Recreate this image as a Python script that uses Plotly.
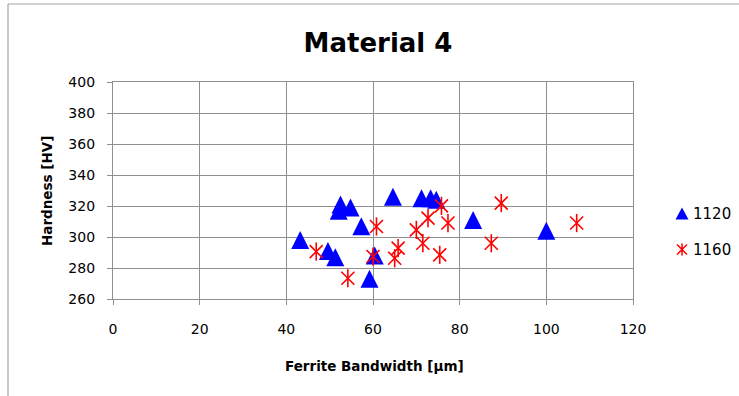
import plotly.graph_objects as go

# Hardness vs. ferrite bandwidth for two heat-treatment temperatures
series_names = ["1120", "1160"]

bandwidth_1120 = [43.2, 52.5, 52.1, 54.8, 57.3, 49.6, 51.3, 60.4, 59.2, 64.6, 71.2, 73.3, 74.6, 83.1, 100.0]
hardness_1120 = [298, 321, 317, 319, 307, 291, 287, 288, 273, 326, 325, 325, 324, 311, 304]

bandwidth_1160 = [46.9, 60.8, 60.0, 54.2, 75.8, 72.7, 77.3, 70.0, 71.5, 65.8, 65.0, 75.4, 89.6, 87.3, 107.0]
hardness_1160 = [290.6, 306.8, 287.4, 273.4, 320.1, 312.2, 309.0, 304.6, 296.0, 292.8, 286.3, 288.5, 321.9, 296.0, 309.0]

x_ticks = [0, 20, 40, 60, 80, 100, 120]
y_ticks = [260, 280, 300, 320, 340, 360, 380, 400]

BLUE = "#0000FF"
RED = "#FF0000"
GRID = "#8f8f8f"
FONT = "DejaVu Sans"

TRI_SIZE = 18
STAR_SIZE = 13

W, H = 739, 396
L, R, T, B = 113, 106, 82, 97
plot_w = W - L - R
plot_h = H - T - B


def px_x(px):
    """Horizontal pixel position -> paper coordinate."""
    return (px - L) / plot_w


def px_y(py):
    """Vertical pixel position (from top) -> paper coordinate."""
    return (H - B - py) / plot_h


fig = go.Figure()

# 1120: upward triangles centred on each point (arrow glyph flipped and pushed back by half its length)
fig.add_trace(go.Scatter(
    x=bandwidth_1120, y=hardness_1120, mode="markers", name=series_names[0], showlegend=False,
    marker=dict(symbol="arrow-down", angle=180, standoff=TRI_SIZE / 2,
                size=TRI_SIZE, color=BLUE, line=dict(width=0)),
))

# 1160: six-armed asterisks, an X plus a vertical stroke
for sym in ("x-thin-open", "line-ns-open"):
    fig.add_trace(go.Scatter(
        x=bandwidth_1160, y=hardness_1160, mode="markers", name=series_names[1], showlegend=False,
        marker=dict(symbol=sym, size=STAR_SIZE, color=RED, line=dict(width=1.6, color=RED)),
    ))

# legend keys, right of the plot area
key_x = px_x(682)
key_y = [px_y(214), px_y(249.5)]
fig.add_shape(type="path", xref="paper", yref="paper", xsizemode="pixel", ysizemode="pixel",
              xanchor=key_x, yanchor=key_y[0],
              path="M-6.5,-5.5 L6.5,-5.5 L0,6.5 Z",
              fillcolor=BLUE, line=dict(width=0))
fig.add_shape(type="path", xref="paper", yref="paper", xsizemode="pixel", ysizemode="pixel",
              xanchor=key_x, yanchor=key_y[1],
              path="M-5,-5 L5,5 M-5,5 L5,-5 M0,-6 L0,6",
              line=dict(color=RED, width=1.5))
for name, ky in zip(series_names, key_y):
    fig.add_annotation(x=px_x(691), y=ky, xref="paper", yref="paper", text=name,
                       showarrow=False, xanchor="left", yanchor="middle",
                       font=dict(family=FONT, size=15, color="#000000"))

axis_common = dict(
    showline=True, linecolor=GRID, linewidth=1.3, mirror=True,
    showgrid=True, gridcolor=GRID, gridwidth=1.3,
    ticks="outside", ticklen=5, tickcolor=GRID, tickwidth=1.3,
    tickfont=dict(family=FONT, size=14, color="#000000"),
    zeroline=False,
)

fig.update_layout(
    width=W, height=H,
    margin=dict(l=L, r=R, t=T, b=B, pad=0, autoexpand=False),
    paper_bgcolor="white", plot_bgcolor="white",
    font=dict(family=FONT, color="#000000"),
    showlegend=False,
    title=dict(text="<b>Material 4</b>", x=378 / W, y=1 - 43 / H,
               xref="container", yref="container",
               xanchor="center", yanchor="middle",
               font=dict(family=FONT, size=26, color="#000000")),
    xaxis=dict(range=[0, 120], tickvals=x_ticks, ticklabelstandoff=12, **axis_common),
    yaxis=dict(range=[260, 400], tickvals=y_ticks, ticklabelstandoff=9, **axis_common),
)

# axis titles
fig.add_annotation(text="<b>Ferrite Bandwidth [µm]</b>", xref="paper", yref="paper",
                   x=px_x(374), y=px_y(366),
                   showarrow=False, xanchor="center", yanchor="middle",
                   font=dict(family=FONT, size=13.5, color="#000000"))
fig.add_annotation(text="<b>Hardness [HV]</b>", xref="paper", yref="paper",
                   x=px_x(47), y=px_y(191), textangle=-90,
                   showarrow=False, xanchor="center", yanchor="middle",
                   font=dict(family=FONT, size=13.5, color="#000000"))

# outer chart frame (top and left edges visible)
fig.add_shape(type="line", xref="paper", yref="paper",
              x0=px_x(8), x1=px_x(W + 5), y0=px_y(4), y1=px_y(4),
              line=dict(color="#a3a3a3", width=1.2))
fig.add_shape(type="line", xref="paper", yref="paper",
              x0=px_x(8), x1=px_x(8), y0=px_y(4), y1=px_y(H + 5),
              line=dict(color="#a3a3a3", width=1.2))

fig.write_html("out.html")
